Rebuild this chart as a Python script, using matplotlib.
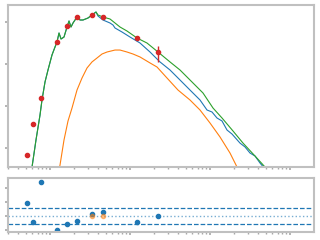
import numpy as np
import matplotlib
matplotlib.use('Agg')
import matplotlib.pyplot as plt
from matplotlib.ticker import NullLocator

# photometry (wavelength in micron, lambda*F_lambda in arbitrary units)
phot_wave = [0.51, 0.62, 0.78, 1.23, 1.65, 2.17, 3.35, 4.6, 12.1, 22.3]
phot_flux = [6.81e-4, 3.73e-3, 1.55e-2, 0.329, 0.803, 1.315, 1.468, 1.33, 0.409, 0.190]
phot_err = [7e-5, 3e-4, 1e-3, 8e-3, 1.5e-2, 2.5e-2, 3e-2, 2.5e-2, 1.6e-2, 0.08]

# total model (green)
total_wave = [0.562, 0.596, 0.668, 0.750, 0.794, 0.866, 0.944, 1.059, 1.155, 1.223,
              1.296, 1.373, 1.496, 1.632, 1.728, 1.830, 1.939, 2.175, 2.371, 2.585,
              2.985, 3.350, 3.758, 3.981, 4.597, 5.623, 6.494, 7.499, 9.173, 12.23,
              16.31, 22.39, 31.62, 42.17, 59.57, 81.75, 109.0, 141.3, 193.9, 258.5,
              365.2, 487.0, 562.3]
total_flux = [1.73e-4, 3.53e-4, 1.55e-3, 6.10e-3, 1.39e-2, 3.73e-2, 7.20e-2, 0.164, 0.254, 0.334,
              0.547, 0.394, 0.439, 0.760, 1.056, 0.760, 0.947, 1.315, 1.116, 1.116,
              1.245, 1.468, 1.73, 1.468, 1.315, 1.179, 0.947, 0.760, 0.610, 0.416,
              0.316, 0.193, 0.112, 7.20e-2, 3.73e-2, 2.04e-2, 8.96e-3, 5.18e-3, 2.54e-3, 1.31e-3,
              6.45e-4, 3.53e-4, 2.28e-4]

# stellar model (blue)
star_wave = [0.562, 0.596, 0.668, 0.750, 0.794, 0.866, 0.944, 1.059, 1.155, 1.223,
             1.296, 1.373, 1.496, 1.632, 1.728, 1.830, 1.939, 2.175, 2.371, 2.585,
             2.985, 3.350, 3.758, 3.981, 4.597, 5.623, 6.131, 6.494, 7.943, 10.0,
             13.34, 17.78, 23.71, 31.62, 42.17, 56.23, 74.99, 91.72, 105.9, 122.3,
             141.3, 163.2, 188.4, 237.1, 273.8, 316.2, 365.2, 421.7, 501.2]
star_flux = [1.73e-4, 3.53e-4, 1.55e-3, 6.10e-3, 1.39e-2, 3.73e-2, 7.20e-2, 0.164, 0.254, 0.334,
             0.547, 0.394, 0.439, 0.760, 1.056, 0.760, 0.947, 1.315, 1.116, 1.116,
             1.245, 1.468, 1.73, 1.389, 1.116, 0.947, 0.848, 0.720, 0.578, 0.439,
             0.316, 0.193, 0.112, 7.20e-2, 4.16e-2, 2.40e-2, 1.39e-2, 8.03e-3, 7.20e-3, 5.18e-3,
             4.40e-3, 2.68e-3, 2.15e-3, 1.31e-3, 1.06e-3, 7.60e-4, 6.45e-4, 4.39e-4, 2.99e-4]

# dust component (orange)
dust_wave = [1.259, 1.334, 1.496, 1.679, 1.884, 2.175, 2.512, 2.901, 3.350, 3.868,
             4.467, 5.158, 6.494, 7.499, 9.173, 10.90, 13.34, 17.78, 21.75, 29.01,
             39.81, 56.23, 74.99, 100.0, 133.4, 177.8, 217.5, 237.1]
dust_flux = [2.28e-4, 3.94e-4, 1.55e-3, 4.40e-3, 8.96e-3, 2.40e-2, 4.64e-2, 8.03e-2, 0.112, 0.139,
             0.173, 0.193, 0.215, 0.215, 0.193, 0.173, 0.147, 0.106, 8.48e-2, 4.64e-2,
             2.40e-2, 1.39e-2, 8.03e-3, 3.94e-3, 1.83e-3, 7.60e-4, 3.53e-4, 2.68e-4]

# residuals
resid = [0.96, -0.4, 2.45, -1.03, -0.6, -0.33, 0.17, 0.31, -0.4, 0.03]
resid2_wave = [3.35, 4.6]
resid2 = [0.0, 0.0]
band = 0.6

spine_col = '#c0c0c0'
tick_col = '#a8a8a8'

fig = plt.figure(figsize=(3.2, 2.4), dpi=100)
ax1 = fig.add_axes([8/320, 1-167/240, 306/320, 162/240])
ax2 = fig.add_axes([8/320, 1-232/240, 306/320, 54/240])

ax1.plot(star_wave, star_flux, color='C0', lw=0.8)
ax1.plot(dust_wave, dust_flux, color='C1', lw=0.8)
ax1.plot(total_wave, total_flux, color='C2', lw=0.8)
ax1.errorbar(phot_wave, phot_flux, yerr=phot_err, fmt='o', color='C3',
             ms=3, elinewidth=1, capsize=0)
ax1.set_xscale('log')
ax1.set_yscale('log')
ax1.set_xlim(0.2985, 1995)
ax1.set_ylim(3.53e-4, 2.54)
ax1.yaxis.set_minor_locator(NullLocator())

ax2.axhline(band, color='C0', ls='--', lw=0.9)
ax2.axhline(-band, color='C0', ls='--', lw=0.9)
ax2.axhline(0, color='C0', ls=':', lw=1, alpha=0.6)
ax2.plot(phot_wave, resid, 'o', color='C0', ms=3)
ax2.plot(resid2_wave, resid2, 'o', color='C1', ms=3, alpha=0.5)
ax2.set_xscale('log')
ax2.set_xlim(0.2985, 1995)
ax2.set_ylim(-1.14, 2.71)
ax2.set_yticks([-1, 0, 1, 2])

for ax in (ax1, ax2):
    for s in ax.spines.values():
        s.set_color(spine_col)
        s.set_linewidth(1.5)
    ax.tick_params(which='major', length=2, width=1.2, color=tick_col,
                   labelleft=False, labelbottom=False)
    ax.tick_params(which='minor', length=1.5, width=1, color=tick_col,
                   labelleft=False, labelbottom=False)

fig.savefig('out.png', dpi=100)
